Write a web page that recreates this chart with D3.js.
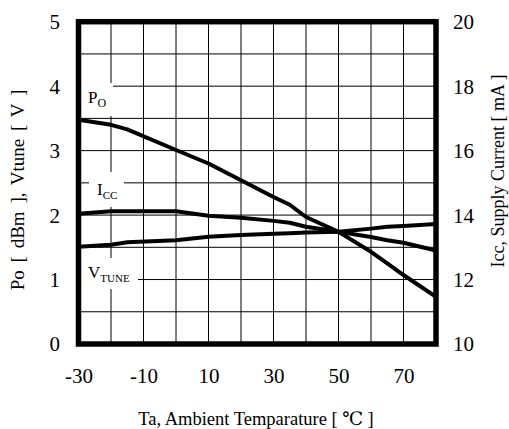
<!DOCTYPE html>
<html><head><meta charset="utf-8">
<script src="https://cdn.jsdelivr.net/npm/d3@7/dist/d3.min.js"></script>
<style>body{margin:0;background:#fff}svg{display:block}svg text{font-family:"Liberation Serif","DejaVu Serif",serif !important;fill:#000}</style>
</head><body><svg id="c" width="509" height="429"></svg>
<script>
const temps = [-30, -20, -15, 0, 10, 20, 30, 35, 40, 50, 60, 65, 70, 80];
const po = [3.48, 3.40, 3.33, 3.01, 2.80, 2.54, 2.28, 2.16, 1.97, 1.74, 1.43, 1.25, 1.07, 0.73];
const icc = [14.04, 14.12, 14.12, 14.12, 13.98, 13.92, 13.82, 13.76, 13.64, 13.48, 13.32, 13.22, 13.14, 12.90];
const vtune = [1.51, 1.54, 1.58, 1.61, 1.665, 1.69, 1.71, 1.72, 1.73, 1.74, 1.79, 1.82, 1.83, 1.86];
const xTicks = [-30, -10, 10, 30, 50, 70];
const leftTicks = [0, 1, 2, 3, 4, 5];
const rightTicks = [10, 12, 14, 16, 18, 20];

const L = 78.5, R = 436, T = 21.7, B = 344;
const svg = d3.select("#c");
const x = d3.scaleLinear().domain([-30, 80]).range([L, R]);
const y = d3.scaleLinear().domain([0, 5]).range([B, T]);
const y2 = d3.scaleLinear().domain([10, 20]).range([B, T]);
const fmt = d => String(d);

// grid
const g = svg.append("g");
g.selectAll(".vg").data(d3.range(-20, 80, 10)).join("line")
  .attr("x1", d => x(d)).attr("x2", d => x(d)).attr("y1", T).attr("y2", B)
  .attr("stroke", "#000").attr("stroke-width", 1);
g.selectAll(".hg").data(d3.range(0.5, 5, 0.5)).join("line")
  .attr("x1", L).attr("x2", R).attr("y1", d => y(d)).attr("y2", d => y(d))
  .attr("stroke", "#000").attr("stroke-width", 1);

// label masks
const masks = [[81, 83, 113, 116], [89, 172, 124, 207], [81, 258, 138, 289]];
svg.selectAll(".mask").data(masks).join("rect")
  .attr("x", d => d[0]).attr("y", d => d[1]).attr("width", d => d[2] - d[0]).attr("height", d => d[3] - d[1])
  .attr("fill", "#fff");

// curves
const line1 = d3.line().x((d, i) => x(temps[i])).y(d => y(d));
const line2 = d3.line().x((d, i) => x(temps[i])).y(d => y2(d));
[[line1, po], [line2, icc], [line1, vtune]].forEach(([ln, data]) => {
  svg.append("path").attr("d", ln(data)).attr("fill", "none").attr("stroke", "#000")
    .attr("stroke-width", 4).attr("stroke-linejoin", "round");
});

// border
svg.append("rect").attr("x", L).attr("y", T).attr("width", R - L).attr("height", B - T)
  .attr("fill", "none").attr("stroke", "#000").attr("stroke-width", 5.5);

// curve labels
function lab(px, py, main, sub, subSize) {
  const t = svg.append("text").attr("x", px).attr("y", py).attr("font-size", 17);
  t.append("tspan").text(main);
  t.append("tspan").attr("font-size", subSize).attr("dy", 4).text(sub);
}
lab(88, 103, "P", "O", 12);
lab(97, 195, "I", "CC", 11);
lab(88, 278, "V", "TUNE", 11);

// axes
const ax = d3.axisBottom(x).tickValues(xTicks).tickFormat(fmt).tickSize(0).tickPadding(0);
const gx = svg.append("g").attr("transform", `translate(0,${B})`).call(ax);
gx.select(".domain").remove();
gx.selectAll("text").attr("font-size", 21).attr("dy", null).attr("y", 39);

const al = d3.axisLeft(y).tickValues(leftTicks).tickFormat(fmt).tickSize(0).tickPadding(0);
const gl = svg.append("g").attr("transform", `translate(60,0)`).call(al);
gl.select(".domain").remove();
gl.selectAll("text").attr("font-size", 21).attr("x", 0).attr("dy", "0.33em");

const ar = d3.axisRight(y2).tickValues(rightTicks).tickFormat(fmt).tickSize(0).tickPadding(0);
const gr = svg.append("g").attr("transform", `translate(453,0)`).call(ar);
gr.select(".domain").remove();
gr.selectAll("text").attr("font-size", 21).attr("x", 0).attr("dy", "0.33em");

// titles
svg.append("text").attr("x", 256).attr("y", 425).attr("text-anchor", "middle").attr("font-size", 18.5)
  .text("Ta, Ambient Temparature [ ℃ ]");
svg.append("text").attr("transform", "translate(24,190) rotate(-90)").attr("text-anchor", "middle").attr("font-size", 19)
  .attr("word-spacing", 3).text("Po [ dBm ], Vtune [ V ]");
svg.append("text").attr("transform", "translate(504,171) rotate(-90)").attr("text-anchor", "middle").attr("font-size", 18)
  .text("Icc, Supply Current [ mA ]");
</script></body></html>
